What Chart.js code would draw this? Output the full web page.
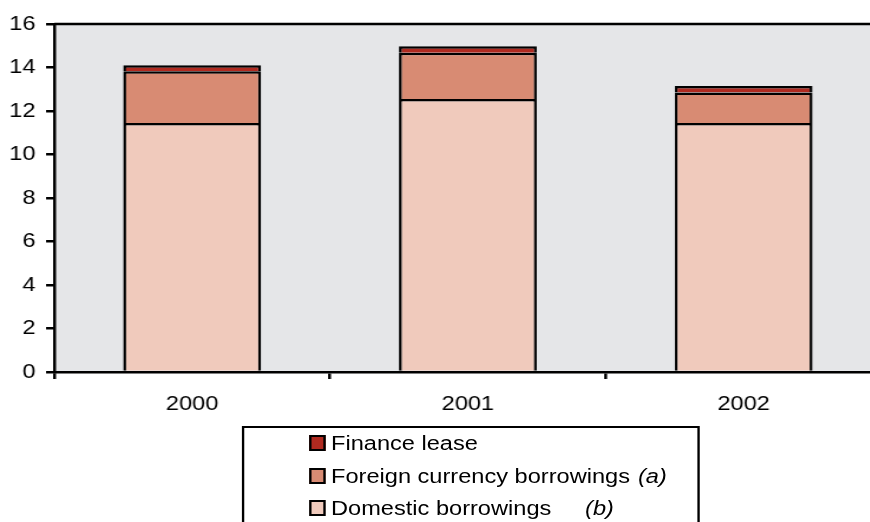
<!DOCTYPE html>
<html>
<head>
<meta charset="utf-8">
<script src="https://cdn.jsdelivr.net/npm/chart.js@4.4.1/dist/chart.umd.min.js"></script>
<style>
  html, body { margin: 0; padding: 0; background: #fff; overflow: hidden; }
  #page {
    position: relative;
    width: 752px;
    height: 522px;
    transform: scaleX(1.18);
    transform-origin: 0 0;
    font-family: 'Liberation Sans', Arial, sans-serif;
    color: #000;
  }
  #chart { position: absolute; left: 0; top: 0; }
  #legend-box {
    position: absolute;
    left: 204.5px;
    top: 426px;
    width: 388.7px;
    height: 120px;
    border: 2px solid #000;
    box-sizing: border-box;
  }
  .leg-row {
    position: absolute;
    left: 0;
    height: 32px;
    line-height: 32px;
    font-size: 20px;
    white-space: nowrap;
  }
  .leg-swatch {
    position: absolute;
    left: 262px;
    top: 8px;
    width: 14px;
    height: 16px;
    border: 2px solid #000;
    box-sizing: border-box;
  }
  .leg-text { position: absolute; left: 280.5px; top: 0; }
  .leg-note { position: absolute; top: 0; font-style: italic; }
</style>
</head>
<body>
<div id="page">
  <canvas id="chart" width="752" height="422"></canvas>
  <div id="legend-box"></div>
  <div id="legend"></div>
</div>
<script>
const years = ['2000', '2001', '2002'];
const domestic = [11.45, 12.55, 11.45];
const foreign = [2.38, 2.13, 1.4];
const financeLease = [0.27, 0.3, 0.3];
const yTicks = [0, 2, 4, 6, 8, 10, 12, 14, 16];

const axisFont = { family: "'Liberation Sans', Arial, sans-serif", size: 20 };

// grey plot background plus the top frame line
const plotFrame = {
  id: 'plotFrame',
  beforeDraw(chart) {
    const { ctx, chartArea: a } = chart;
    ctx.save();
    ctx.fillStyle = '#e5e6e8';
    ctx.fillRect(a.left, a.top, a.right - a.left, a.bottom - a.top);
    ctx.strokeStyle = '#000';
    ctx.lineWidth = 2.5;
    ctx.beginPath();
    ctx.moveTo(a.left, a.top);
    ctx.lineTo(a.right + 10, a.top);
    ctx.stroke();
    ctx.restore();
  }
};

const series = [
  { label: 'Domestic borrowings', note: '(b)', noteLeft: 495.8, data: domestic, color: '#f0cabc' },
  { label: 'Foreign currency borrowings', note: '(a)', noteLeft: 540.7, data: foreign, color: '#d88b73' },
  { label: 'Finance lease', note: '', noteLeft: 0, data: financeLease, color: '#b02a20' }
];

new Chart(document.getElementById('chart'), {
  type: 'bar',
  data: {
    labels: years,
    datasets: series.map(s => ({
      label: s.label,
      data: s.data,
      backgroundColor: s.color,
      borderColor: '#000',
      borderWidth: 2.5,
      barPercentage: 0.5,
      categoryPercentage: 1.0
    }))
  },
  options: {
    responsive: false,
    animation: false,
    devicePixelRatio: 1,
    layout: { padding: { top: 24, right: 5, left: 0, bottom: 0 } },
    plugins: {
      legend: { display: false },
      tooltip: { enabled: false }
    },
    scales: {
      x: {
        stacked: true,
        afterFit(scale) { scale.height = 50; },
        grid: { drawOnChartArea: false, drawTicks: true, tickLength: 7, color: '#000', lineWidth: 2.5 },
        border: { color: '#000', width: 2.5 },
        ticks: { color: '#000', font: axisFont, padding: 13 }
      },
      y: {
        stacked: true,
        min: 0,
        max: 16,
        afterFit(scale) { scale.width = 46; },
        afterBuildTicks(scale) { scale.ticks = yTicks.map(v => ({ value: v })); },
        grid: { drawOnChartArea: false, drawTicks: true, tickLength: 7, color: '#000', lineWidth: 2.5 },
        border: { color: '#000', width: 2.5 },
        ticks: { color: '#000', font: axisFont, padding: 9 }
      }
    }
  },
  plugins: [plotFrame]
});

// legend rows, top entry is the last stacked series
const legend = document.getElementById('legend');
series.slice().reverse().forEach((s, i) => {
  const row = document.createElement('div');
  row.className = 'leg-row';
  row.style.top = (443.3 + 32.5 * i - 16) + 'px';
  row.style.width = '752px';
  const sw = document.createElement('span');
  sw.className = 'leg-swatch';
  sw.style.background = s.color;
  const tx = document.createElement('span');
  tx.className = 'leg-text';
  tx.textContent = s.label;
  row.appendChild(sw);
  row.appendChild(tx);
  if (s.note) {
    const nt = document.createElement('span');
    nt.className = 'leg-note';
    nt.style.left = s.noteLeft + 'px';
    nt.textContent = s.note;
    row.appendChild(nt);
  }
  legend.appendChild(row);
});
</script>
</body>
</html>
